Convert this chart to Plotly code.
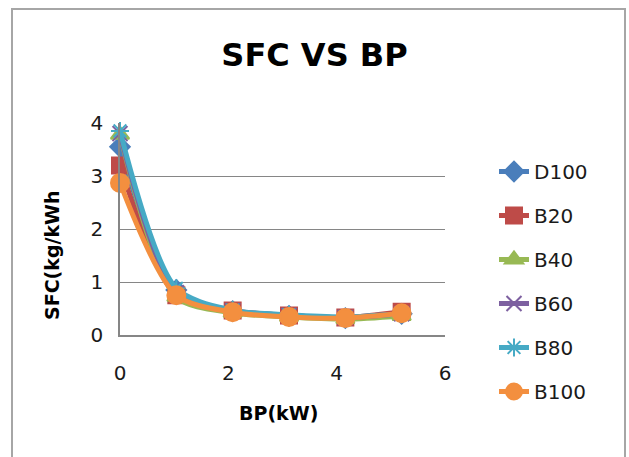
import plotly.graph_objects as go

# Brake power (kW) and specific fuel consumption (kg/kWh) per fuel blend
bp = [0, 1.04, 2.08, 3.12, 4.16, 5.2]
d100 = [3.55, 0.85, 0.45, 0.36, 0.32, 0.40]
b20 = [3.2, 0.75, 0.46, 0.37, 0.33, 0.44]
b40 = [3.78, 0.72, 0.42, 0.34, 0.30, 0.36]
b60 = [3.8, 0.80, 0.46, 0.37, 0.33, 0.40]
b80 = [3.85, 0.88, 0.47, 0.38, 0.34, 0.40]
b100 = [2.87, 0.75, 0.43, 0.34, 0.32, 0.41]

series = [
    ("D100", d100, "#4A7EBB", "diamond", 15),
    ("B20", b20, "#BE4B48", "square", 16),
    ("B40", b40, "#98B954", "triangle-up", 16),
    ("B60", b60, "#7D60A0", "x-thin-open", 15),
    ("B80", b80, "#46AAC5", "asterisk-open", 15),
    ("B100", b100, "#F38F3F", "circle", 18),
]

FONT = "DejaVu Sans, Open Sans, sans-serif"

fig = go.Figure()
for name, ys, color, sym, size in series:
    fig.add_trace(go.Scatter(
        x=bp, y=ys, name=name, mode="lines+markers",
        legendgroup=name, cliponaxis=False,
        line=dict(color=color, width=5, shape="spline", smoothing=0.8),
        marker=dict(symbol=sym, size=size, color=color,
                    line=dict(color=color, width=2)),
    ))

# plot area in pixels: x 120..445, y 123..335
L, R, T, B = 120, 445, 123, 335
W, H = 629, 457
pw, ph = R - L, B - T


def px_x(p):
    return (p - L) / pw


def px_y(p):
    return (B - p) / ph


fig.update_layout(
    width=W, height=H,
    margin=dict(l=L, r=W - R, t=T, b=H - B),
    paper_bgcolor="white", plot_bgcolor="white",
    font=dict(family=FONT, size=20, color="#1a1a1a"),
    showlegend=True,
    title=dict(text="<b>SFC VS BP</b>", x=0.5, xanchor="center",
               y=1 - 55 / H, yanchor="middle",
               font=dict(family=FONT, size=32, color="#000000")),
    legend=dict(x=px_x(494), xanchor="left", y=px_y(152), yanchor="top",
                traceorder="grouped", tracegroupgap=15, maxheight=420,
                font=dict(family=FONT, size=20, color="#1a1a1a"),
                bgcolor="rgba(0,0,0,0)"),
    xaxis=dict(range=[0, 6], tickvals=[0, 2, 4, 6], showgrid=False,
               zeroline=False, showline=True, linecolor="#868686",
               linewidth=1.5, ticks="", ticklabelstandoff=19,
               fixedrange=True),
    yaxis=dict(range=[0, 4], tickvals=[0, 1, 2, 3, 4], showgrid=True,
               gridcolor="#868686", gridwidth=1.2, zeroline=False,
               showline=True, linecolor="#868686", linewidth=1.5,
               ticks="", ticklabelstandoff=11, fixedrange=True),
    annotations=[
        dict(text="<b>BP(kW)</b>", xref="paper", yref="paper",
             x=px_x(278), y=px_y(413), xanchor="center", yanchor="middle",
             showarrow=False, font=dict(family=FONT, size=19, color="#000")),
        dict(text="<b>SFC(kg/kWh</b>", xref="paper", yref="paper",
             x=px_x(52), y=px_y(255), xanchor="center", yanchor="middle",
             textangle=-90, showarrow=False,
             font=dict(family=FONT, size=19, color="#000")),
    ],
    shapes=[
        dict(type="rect", xref="paper", yref="paper",
             x0=px_x(12), x1=px_x(625), y0=px_y(470), y1=px_y(9),
             line=dict(color="#A6A6A6", width=2), fillcolor="rgba(0,0,0,0)",
             layer="below"),
    ],
)

fig.write_html("out.html", config={"displayModeBar": False})
